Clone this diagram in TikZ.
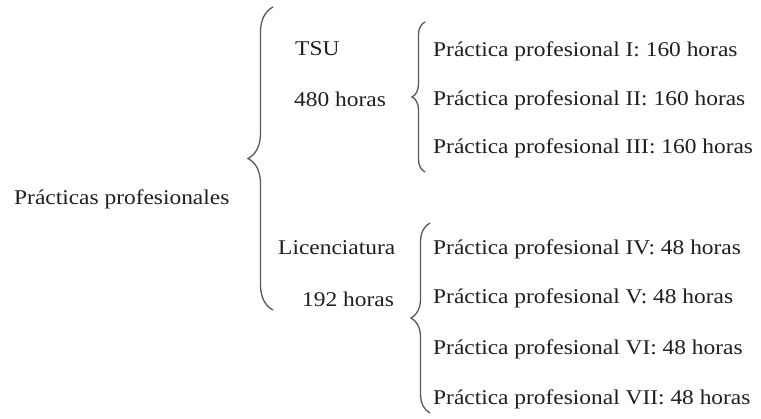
\documentclass[tikz,border=0pt]{standalone}
\usepackage{fontspec}
\setmainfont[FakeStretch=1.115]{Liberation Serif}
\usetikzlibrary{decorations.pathreplacing}

\begin{document}
\begin{tikzpicture}[x=1pt,y=-1pt]

        \useasboundingbox[fill=white] (0,0) rectangle (761,419);

        \begin{scope}[every node/.style={anchor=west,inner sep=0pt,text=black!88,
            font=\fontsize{21}{25}\selectfont,text height=14pt,text depth=4pt}]
          \node (prac)  at (14,200)  {Prácticas profesionales};
          \node (tsu)  at (295,51)  {TSU};
          \node (h480)  at (294,102)  {480 horas};
          \node (lic)  at (278,250)  {Licenciatura};
          \node (h192)  at (302,302)  {192 horas};
          \node (p1)  at (433,52)  {Práctica profesional I: 160 horas};
          \node (p2)  at (433,101)  {Práctica profesional II: 160 horas};
          \node (p3)  at (433,149)  {Práctica profesional III: 160 horas};
          \node (p4)  at (433,250)  {Práctica profesional IV: 48 horas};
          \node (p5)  at (433,299)  {Práctica profesional V: 48 horas};
          \node (p6)  at (433,350)  {Práctica profesional VI: 48 horas};
          \node (p7)  at (433,400)  {Práctica profesional VII: 48 horas};
        \end{scope}

        % brace ends
        \coordinate (b1n) at (273,7);
        \coordinate (b1s) at (273,310);
        \coordinate (b2n) at (425,22);
        \coordinate (b2s) at (425,172);
        \coordinate (b3n) at (430,223);
        \coordinate (b3s) at (430,413);

        \begin{scope}[every path/.style={draw=black!65,line width=1.3pt,decorate}]
          \path[decoration={brace,amplitude=25pt}] (b1s) -- (b1n);
          \path[decoration={brace,amplitude=13pt}] (b2s) -- (b2n);
          \path[decoration={brace,amplitude=19pt}] (b3s) -- (b3n);
        \end{scope}

      \end{tikzpicture}
\end{document}
